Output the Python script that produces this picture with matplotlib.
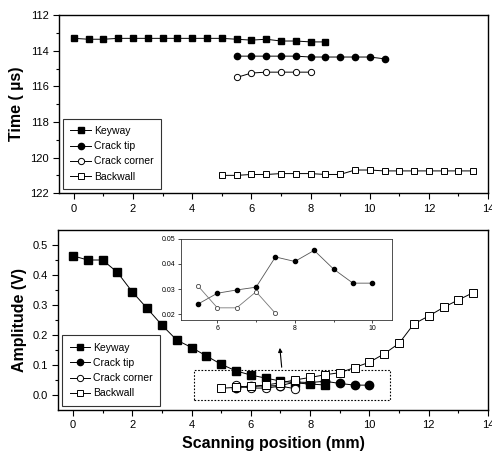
import matplotlib
matplotlib.use("Agg")
import matplotlib.pyplot as plt
from matplotlib.patches import Rectangle

plt.rcParams['font.family'] = ['Liberation Sans', 'DejaVu Sans']
plt.rcParams['font.size'] = 8

# time of flight (top panel)
key_x = [0, 0.5, 1, 1.5, 2, 2.5, 3, 3.5, 4, 4.5, 5, 5.5, 6, 6.5, 7, 7.5, 8, 8.5]
key_t = [113.3, 113.35, 113.35, 113.3, 113.3, 113.3, 113.3, 113.3, 113.3,
         113.3, 113.3, 113.35, 113.4, 113.35, 113.45, 113.45, 113.5, 113.5]
tip_tx = [5.5, 6, 6.5, 7, 7.5, 8, 8.5, 9, 9.5, 10, 10.5]
tip_t = [114.3, 114.3, 114.3, 114.3, 114.3, 114.35, 114.35, 114.35, 114.35, 114.35, 114.45]
cor_tx = [5.5, 6, 6.5, 7, 7.5, 8]
cor_t = [115.5, 115.25, 115.2, 115.2, 115.2, 115.2]
back_x = [5, 5.5, 6, 6.5, 7, 7.5, 8, 8.5, 9, 9.5, 10, 10.5, 11, 11.5, 12, 12.5, 13, 13.5]
back_t = [121.0, 121.0, 120.95, 120.95, 120.9, 120.9, 120.9, 120.95, 120.95,
          120.7, 120.7, 120.75, 120.75, 120.75, 120.75, 120.75, 120.75, 120.75]

# amplitude (bottom panel)
key_a = [0.464, 0.45, 0.45, 0.409, 0.344, 0.289, 0.233, 0.183, 0.158,
         0.130, 0.102, 0.080, 0.066, 0.056, 0.046, 0.040, 0.036, 0.033]
tip_ax = [5.5, 6, 6.5, 7, 7.5, 8, 8.5, 9, 9.5, 10]
tip_a = [0.0241, 0.0284, 0.0297, 0.0308, 0.0428, 0.0410, 0.0454, 0.0380, 0.0324, 0.0324]
cor_ax = [5.5, 6, 6.5, 7, 7.5]
cor_a = [0.0313, 0.0226, 0.0226, 0.0290, 0.0204]
back_a = [0.022, 0.025, 0.028, 0.033, 0.040, 0.050, 0.058, 0.067, 0.074,
          0.091, 0.109, 0.137, 0.172, 0.237, 0.263, 0.292, 0.317, 0.341]

labels = ['Keyway', 'Crack tip', 'Crack corner', 'Backwall']
label_font = dict(fontsize=11.5, fontweight='bold')


def style_axis(ax):
    ax.tick_params(which='major', direction='out', length=4, width=0.8, labelsize=8)
    ax.tick_params(which='minor', direction='out', length=2.5, width=0.8)
    for s in ax.spines.values():
        s.set_linewidth(1.0)


def draw_series(ax, ys, ms):
    k, t, c, b = ys
    ax.plot(key_x, k, '-', color='black', lw=0.7, marker='s', ms=ms,
            mfc='black', mec='black', label=labels[0])
    ax.plot(t[0], t[1], '-', color='black', lw=0.7, marker='o', ms=ms,
            mfc='black', mec='black', label=labels[1])
    ax.plot(c[0], c[1], '-', color='black', lw=0.7, marker='o', ms=ms,
            mfc='white', mec='black', mew=0.7, label=labels[2])
    ax.plot(back_x, b, '-', color='black', lw=0.7, marker='s', ms=ms,
            mfc='white', mec='black', mew=0.7, label=labels[3])


def add_legend(ax, scale):
    leg = ax.legend(loc='lower left', fontsize=7.5, frameon=True, fancybox=False,
                    edgecolor='black', handlelength=2.0, borderpad=0.7,
                    labelspacing=0.5, handletextpad=0.3, markerscale=scale,
                    borderaxespad=0.4)
    leg.get_frame().set_linewidth(0.8)


fig = plt.figure(figsize=(4.92, 4.61), dpi=100)

# top: time
ax1 = fig.add_axes([0.120, 0.581, 0.872, 0.386])
draw_series(ax1, [key_t, (tip_tx, tip_t), (cor_tx, cor_t), back_t], 4.5)
ax1.set_xlim(-0.5, 14)
ax1.set_ylim(122, 112)
ax1.set_xticks(range(0, 15, 2))
ax1.set_xticks(range(1, 15, 2), minor=True)
ax1.set_yticks(range(112, 123, 2))
ax1.set_yticks(range(113, 122, 2), minor=True)
ax1.set_ylabel('Time ( \u00b5s)', labelpad=4, **label_font)
style_axis(ax1)
add_legend(ax1, 1.0)

# bottom: amplitude
ax2 = fig.add_axes([0.118, 0.111, 0.874, 0.390])
draw_series(ax2, [key_a, (tip_ax, tip_a), (cor_ax, cor_a), back_a], 6)
ax2.set_xlim(-0.5, 14)
ax2.set_ylim(-0.05, 0.55)
ax2.set_xticks(range(0, 15, 2))
ax2.set_xticks(range(1, 15, 2), minor=True)
ax2.set_yticks([0.0, 0.1, 0.2, 0.3, 0.4, 0.5])
ax2.set_yticks([0.05, 0.15, 0.25, 0.35, 0.45], minor=True)
ax2.set_ylabel('Amplitude (V)', labelpad=4, **label_font)
ax2.set_xlabel('Scanning position (mm)', labelpad=4, **label_font)
style_axis(ax2)
add_legend(ax2, 0.75)

# dotted box marking the zoomed region
ax2.add_patch(Rectangle((4.1, -0.017), 6.6, 0.1, fill=False, ls=(0, (1.5, 1.5)),
                        lw=0.8, ec='black', zorder=1))
ax2.annotate('', xy=(6.97, 0.166), xytext=(7.05, 0.083),
             arrowprops=dict(arrowstyle='-|>', color='black', lw=0.8,
                             mutation_scale=6))

# inset
ax3 = fig.add_axes([0.367, 0.306, 0.429, 0.176])
ax3.plot(tip_ax, tip_a, '-', color='#555555', lw=0.6, marker='o', ms=3,
         mfc='black', mec='black')
ax3.plot(cor_ax, cor_a, '-', color='#777777', lw=0.6, marker='o', ms=3,
         mfc='white', mec='#444444', mew=0.6)
ax3.set_xlim(5.05, 10.5)
ax3.set_ylim(0.0178, 0.05)
ax3.set_xticks([6, 8, 10])
ax3.set_xticks([7, 9], minor=True)
ax3.set_yticks([0.02, 0.03, 0.04, 0.05])
ax3.set_yticklabels(['0.02', '0.03', '0.04', '0.05'])
ax3.tick_params(which='major', direction='out', length=2, width=0.5, labelsize=5, pad=1.5)
ax3.tick_params(which='minor', direction='out', length=1.2, width=0.5)
for s in ax3.spines.values():
    s.set_linewidth(0.6)
    s.set_edgecolor('#333333')

fig.savefig('out.png', dpi=100)
